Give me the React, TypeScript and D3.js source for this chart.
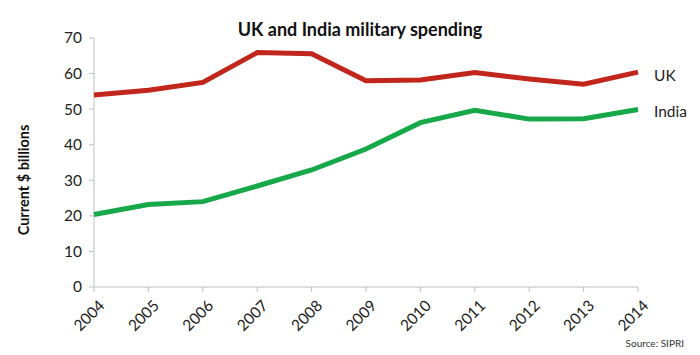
import React from "react";
import * as d3 from "d3";

const years = [2004, 2005, 2006, 2007, 2008, 2009, 2010, 2011, 2012, 2013, 2014];
const ukValues = [54.0, 55.3, 57.5, 65.9, 65.6, 58.0, 58.2, 60.3, 58.5, 57.0, 60.4];
const indiaValues = [20.4, 23.2, 24.0, 28.4, 32.9, 38.8, 46.2, 49.7, 47.2, 47.3, 49.9];
const yTicks = [0, 10, 20, 30, 40, 50, 60, 70];
const seriesNames = ["UK", "India"];
const seriesColors = ["#C0261B", "#17A84A"];
const title = "UK and India military spending";
const yTitle = "Current $ billions";
const source = "Source: SIPRI";

const W = 700;
const H = 355;
const FONT = "Lato, 'Open Sans', sans-serif";

export default function App() {
  const x = d3.scalePoint<number>().domain(years).range([94, 638]);
  const y = d3.scaleLinear().domain([0, 70]).range([287, 38]);
  const line = d3
    .line<number>()
    .x((_, i) => x(years[i]) as number)
    .y((d) => y(d));
  const series = [ukValues, indiaValues];

  return (
    <svg
      width={W}
      height={H}
      style={{ position: "absolute", left: 0, top: 0, background: "#fff" }}
      fontFamily={FONT}
    >
      <text x={360} y={36} textAnchor="middle" fontSize={18} fontWeight="bold" fill="#111">
        {title}
      </text>
      {/* y axis */}
      <line x1={94} x2={94} y1={y(70)} y2={y(0)} stroke="#bfbfbf" strokeWidth={1} />
      {yTicks.map((t) => (
        <g key={t}>
          <line x1={89} x2={94} y1={y(t)} y2={y(t)} stroke="#bfbfbf" />
          <text x={82} y={y(t)} dy="0.35em" textAnchor="end" fontSize={15.5} fill="#222">
            {t}
          </text>
        </g>
      ))}
      {/* x axis */}
      <line x1={94} x2={638} y1={y(0)} y2={y(0)} stroke="#bfbfbf" strokeWidth={1} />
      {years.map((yr) => (
        <g key={yr}>
          <line x1={x(yr)} x2={x(yr)} y1={287} y2={292} stroke="#bfbfbf" />
          <text
            transform={`translate(${(x(yr) as number) + 4},${299}) rotate(-45)`}
            textAnchor="end"
            dy="0.7em"
            fontSize={15.5}
            fill="#222"
          >
            {yr}
          </text>
        </g>
      ))}
      <text
        transform={`translate(29,180) rotate(-90)`}
        textAnchor="middle"
        fontSize={14.5}
        fontWeight="bold"
        fill="#111"
      >
        {yTitle}
      </text>
      {series.map((vals, i) => (
        <path
          key={seriesNames[i]}
          d={line(vals) || ""}
          fill="none"
          stroke={seriesColors[i]}
          strokeWidth={5}
          strokeLinejoin="miter"
        />
      ))}
      {series.map((vals, i) => (
        <text
          key={"l" + seriesNames[i]}
          x={654}
          y={y(vals[vals.length - 1]) + (i === 0 ? 3 : 2)}
          dy="0.35em"
          fontSize={15.5}
          fill="#222"
        >
          {seriesNames[i]}
        </text>
      ))}
      <text x={684} y={347} textAnchor="end" fontSize={10} fill="#333">
        {source}
      </text>
    </svg>
  );
}
